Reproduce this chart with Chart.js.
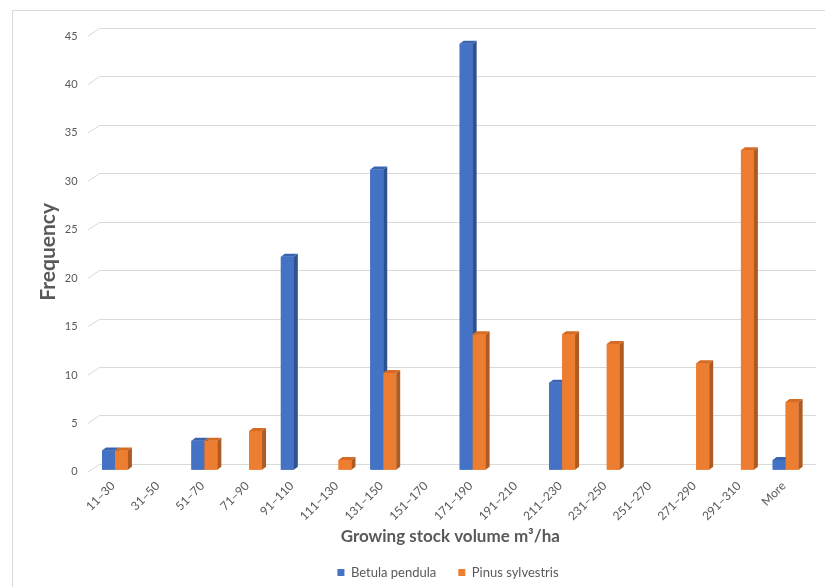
<!DOCTYPE html>
<html>
<head>
<meta charset="utf-8">
<script src="https://cdn.jsdelivr.net/npm/chart.js@4/dist/chart.umd.min.js"></script>
<style>
  html, body { margin: 0; padding: 0; background: #ffffff; }
  #wrap { width: 825px; height: 587px; position: relative; }
</style>
</head>
<body>
<div id="wrap"><canvas id="chart" width="825" height="587"></canvas></div>
<script>
// Growing stock volume classes (m³/ha)
const categories = ['11–30', '31–50', '51–70', '71–90', '91–110', '111–130', '131–150',
  '151–170', '171–190', '191–210', '211–230', '231–250', '251–270', '271–290', '291–310', 'More'];

// Frequency of plots per class
const betulaPendula   = [2, 0, 3, 0, 22, 0, 31, 0, 44, 0, 9, 0, 0, 0, 0, 1];
const pinusSylvestris = [2, 0, 3, 4, 0, 1, 10, 0, 14, 0, 14, 13, 0, 11, 33, 7];

// Frequency axis range
const yMin = 0;
const yMax = 45;
const yStep = 5;

const FONT = 'Lato, "Open Sans", sans-serif';
const GREY = '#595959';

const palette = [
  { front: '#4472C4', side: '#2F528F', top: '#3A64AE' },
  { front: '#ED7D31', side: '#AE5A21', top: '#D66C24' }
];

const DEPTH_X = 4, DEPTH_Y = 3;

// Frame around the whole chart
const framePlugin = {
  id: 'frame',
  beforeDraw(chart) {
    const ctx = chart.ctx;
    ctx.save();
    ctx.fillStyle = '#ffffff';
    ctx.fillRect(0, 0, chart.width, chart.height);
    ctx.strokeStyle = '#d9d9d9';
    ctx.lineWidth = 1;
    ctx.strokeRect(12.5, 10.5, chart.width + 20, chart.height + 20);
    ctx.restore();
  }
};

// Centre the legend under the plot area rather than the whole canvas
const legendShiftPlugin = {
  id: 'legendShift',
  afterLayout(chart) {
    const lg = chart.legend;
    if (!lg) return;
    lg.left += 44;
    lg.right += 44;
  }
};

// Gridlines on the back wall, with the slanted side-wall segment
const wallGridPlugin = {
  id: 'wallGrid',
  beforeDatasetsDraw(chart) {
    const { ctx, chartArea, scales: { y } } = chart;
    ctx.save();
    ctx.strokeStyle = '#d9d9d9';
    ctx.lineWidth = 1;
    y.ticks.forEach(t => {
      const py = y.getPixelForValue(t.value);
      const back = Math.round(py - 6) + 0.5;
      ctx.beginPath();
      ctx.moveTo(chartArea.left - 5, py + 2.4);
      ctx.lineTo(chartArea.left + 7, back);
      ctx.lineTo(chartArea.right + 8, back);
      ctx.stroke();
    });
    ctx.restore();
  }
};

// Extruded columns: front, right side and top faces
const columnPlugin = {
  id: 'columns3d',
  afterDatasetsDraw(chart) {
    const ctx = chart.ctx;
    ctx.save();
    chart.data.datasets.forEach((ds, di) => {
      const meta = chart.getDatasetMeta(di);
      if (meta.hidden) return;
      const col = palette[di];
      meta.data.forEach((bar, i) => {
        if (!ds.data[i]) return;
        const { x, y, base, width } = bar.getProps(['x', 'y', 'base', 'width'], true);
        const l = x - width / 2, r = x + width / 2;
        ctx.fillStyle = col.front;
        ctx.fillRect(l, y, width, base - y);
        ctx.fillStyle = col.side;
        ctx.beginPath();
        ctx.moveTo(r, y);
        ctx.lineTo(r + DEPTH_X, y - DEPTH_Y);
        ctx.lineTo(r + DEPTH_X, base - DEPTH_Y);
        ctx.lineTo(r, base);
        ctx.closePath();
        ctx.fill();
        ctx.fillStyle = col.top;
        ctx.beginPath();
        ctx.moveTo(l, y);
        ctx.lineTo(l + DEPTH_X, y - DEPTH_Y);
        ctx.lineTo(r + DEPTH_X, y - DEPTH_Y);
        ctx.lineTo(r, y);
        ctx.closePath();
        ctx.fill();
      });
    });
    ctx.restore();
  }
};

new Chart(document.getElementById('chart'), {
  type: 'bar',
  data: {
    labels: categories,
    datasets: [
      { label: 'Betula pendula', data: betulaPendula, backgroundColor: palette[0].front, borderWidth: 0 },
      { label: 'Pinus sylvestris', data: pinusSylvestris, backgroundColor: palette[1].front, borderWidth: 0 }
    ]
  },
  options: {
    responsive: false,
    animation: false,
    categoryPercentage: 0.58,
    barPercentage: 1.0,
    layout: { padding: { top: 34, right: 17, left: 0, bottom: 0 } },
    plugins: {
      tooltip: { enabled: false },
      legend: {
        position: 'bottom',
        maxHeight: 43,
        labels: {
          boxWidth: 7, boxHeight: 7, padding: 22,
          color: GREY,
          font: { family: FONT, size: 13 }
        }
      }
    },
    scales: {
      x: {
        grid: { display: false, drawTicks: false },
        border: { display: false },
        ticks: {
          color: GREY, font: { family: FONT, size: 12 },
          minRotation: 45, maxRotation: 45, padding: 9, labelOffset: -2, autoSkip: false
        },
        title: {
          display: true, text: 'Growing stock volume m³/ha', color: GREY,
          font: { family: FONT, size: 17, weight: 'bold' },
          padding: { top: 0, bottom: -3 }
        },
        afterFit(scale) { scale.height = 74.2; }
      },
      y: {
        min: yMin, max: yMax,
        grid: { display: false, drawTicks: false },
        border: { display: false },
        ticks: {
          stepSize: yStep, color: GREY, font: { family: FONT, size: 11 },
          padding: 15, labelOffset: 2
        },
        title: {
          display: true, text: 'Frequency', color: GREY,
          font: { family: FONT, size: 21, weight: 'bold' },
          padding: { top: 36, bottom: 0 }
        },
        afterFit(scale) { scale.width = 92.6; }
      }
    }
  },
  plugins: [framePlugin, legendShiftPlugin, wallGridPlugin, columnPlugin]
});
</script>
</body>
</html>
